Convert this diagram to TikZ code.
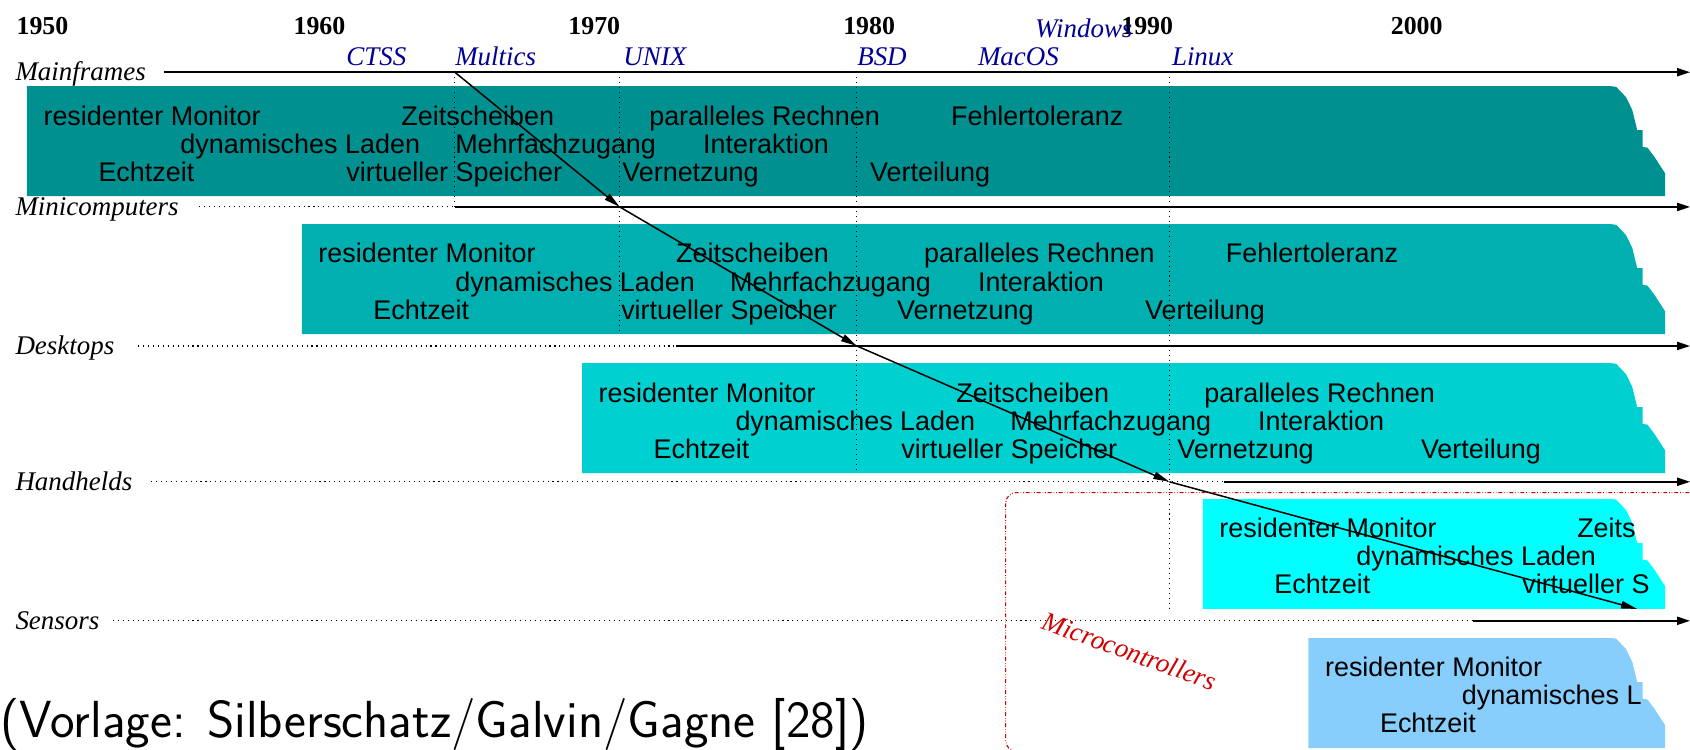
\documentclass[tikz,border=0pt]{standalone}
\usepackage{fontspec}
\newfontfamily\helv{Liberation Sans}
\newfontfamily\tms{Liberation Serif}
\usetikzlibrary{arrows.meta}
\definecolor{cyanfour}{RGB}{0,144,144}
\definecolor{cyanthree}{RGB}{0,176,176}
\definecolor{cyantwo}{RGB}{0,208,208}
\definecolor{cyanone}{RGB}{0,255,255}
\definecolor{ltblue}{RGB}{135,206,252}
\definecolor{osblue}{RGB}{0,0,150}
\definecolor{mcred}{RGB}{210,0,0}
\newcommand\osband[3]{%
  \begin{scope}[shift={(0,#2)}]
    \fill[#3] (#1,0) -- (1495,0) -- (1499.5,0.6) -- (1508.5,10) -- (1511.5,16)
      -- (1514.5,22.3) -- (1517.5,34.6) -- (1519,40.8) -- (1524,40.8) -- (1524,56.3)
      -- (1528.5,57) -- (1535,65.6) -- (1545,81) -- (1545,102) -- (#1,102) -- cycle;
  \end{scope}}
\begin{document}
\begin{tikzpicture}[x=0.5pt,y=-0.5pt,
  feat/.style={font=\helv\fontsize{12.5pt}{14pt}\selectfont, anchor=base west, inner sep=0pt},
  year/.style={font=\tms\bfseries\fontsize{12pt}{14pt}\selectfont, anchor=base west, inner sep=0pt},
  os/.style={font=\tms\itshape\fontsize{12.5pt}{14pt}\selectfont, text=osblue, anchor=base west, inner sep=0pt},
  cls/.style={font=\tms\itshape\fontsize{12.5pt}{14pt}\selectfont, anchor=base west, inner sep=0pt},
  tl/.style={line width=0.7pt, -{Triangle[length=6pt,width=3.8pt]}},
  dotl/.style={line width=0.5pt, dash pattern=on 0.5pt off 1.8pt},
  conn/.style={line width=0.7pt, -{Triangle[length=7.5pt,width=3.4pt]}},
]
\useasboundingbox (0,0) rectangle (1568,695);
\clip (0,0) rectangle (1568,695);

% bands
\osband{25}{80}{cyanfour}
\osband{280}{208}{cyanthree}
\osband{540}{337}{cyantwo}
\osband{1116}{463}{cyanone}
\osband{1214}{592}{ltblue}

% years
\node[year] (y50) at (15,32) {1950};
\node[year] (y60) at (272,32) {1960};
\node[year] (y70) at (527,32) {1970};
\node[year] (y80) at (782,32) {1980};
\node[year] (y90) at (1040,32) {1990};
\node[year] (y00) at (1290,32) {2000};

% OS labels
\node[os] (ctss) at (321,61) {CTSS};
\node[os] (multics) at (422,61) {Multics};
\node[os] (unix) at (578,61) {UNIX};
\node[os] (bsd) at (795,61) {BSD};
\node[os] (macos) at (907,61) {MacOS};
\node[os] (windows) at (960,35) {Windows};
\node[os] (linux) at (1087,61) {Linux};

% class labels
\node[cls] (lmf) at (14,75) {Mainframes};
\node[cls] (lmc) at (14,200) {Minicomputers};
\node[cls] (ldt) at (14,329) {Desktops};
\node[cls] (lhh) at (14,455) {Handhelds};
\node[cls] (lsn) at (14,584) {Sensors};

% timeline coordinates
\coordinate (mfA) at (152,67);   \coordinate (mfE) at (1568,67);
\coordinate (mcA) at (185,192);  \coordinate (mcB) at (422,192);  \coordinate (mcE) at (1568,192);
\coordinate (dtA) at (128,321);  \coordinate (dtB) at (627,321);  \coordinate (dtE) at (1568,321);
\coordinate (hhA) at (140,447);  \coordinate (hhB) at (1136,447); \coordinate (hhE) at (1568,447);
\coordinate (snA) at (105,576);  \coordinate (snB) at (1367,576); \coordinate (snE) at (1568,576);

\draw[tl] (mfA) -- (mfE);
\draw[dotl] (mcA) -- (mcB); \draw[tl] (mcB) -- (mcE);
\draw[dotl] (dtA) -- (dtB); \draw[tl] (dtB) -- (dtE);
\draw[dotl] (hhA) -- (hhB); \draw[tl] (hhB) -- (hhE);
\draw[dotl] (snA) -- (snB); \draw[tl] (snB) -- (snE);

% vertical dotted markers
\coordinate (vM0) at (422,67);  \coordinate (vM1) at (422,192);
\coordinate (vU0) at (575,67);  \coordinate (vU1) at (575,310);
\coordinate (vB0) at (795,67);  \coordinate (vB1) at (795,438);
\coordinate (vL0) at (1085,67); \coordinate (vL1) at (1085,565);
\draw[dotl] (vM0) -- (vM1);
\draw[dotl] (vU0) -- (vU1);
\draw[dotl] (vB0) -- (vB1);
\draw[dotl] (vL0) -- (vL1);

% Mainframes features
\node[feat] (mf1) at (40,116) {residenter Monitor};
\node[feat] (mf2) at (372,116) {Zeitscheiben};
\node[feat] (mf3) at (602,116) {paralleles Rechnen};
\node[feat] (mf4) at (882,116) {Fehlertoleranz};
\node[feat] (mf5) at (167,142) {dynamisches Laden};
\node[feat] (mf6) at (422,142) {Mehrfachzugang};
\node[feat] (mf7) at (652,142) {Interaktion};
\node[feat] (mf8) at (91,168) {Echtzeit};
\node[feat] (mf9) at (321,168) {virtueller Speicher};
\node[feat] (mf10) at (577,168) {Vernetzung};
\node[feat] (mf11) at (807,168) {Verteilung};

% Minicomputers features
\node[feat] (mc1) at (295,244) {residenter Monitor};
\node[feat] (mc2) at (627,244) {Zeitscheiben};
\node[feat] (mc3) at (857,244) {paralleles Rechnen};
\node[feat] (mc4) at (1137,244) {Fehlertoleranz};
\node[feat] (mc5) at (422,270) {dynamisches Laden};
\node[feat] (mc6) at (677,270) {Mehrfachzugang};
\node[feat] (mc7) at (907,270) {Interaktion};
\node[feat] (mc8) at (346,296) {Echtzeit};
\node[feat] (mc9) at (576,296) {virtueller Speicher};
\node[feat] (mc10) at (832,296) {Vernetzung};
\node[feat] (mc11) at (1062,296) {Verteilung};

% Desktops features
\node[feat] (dt1) at (555,373) {residenter Monitor};
\node[feat] (dt2) at (887,373) {Zeitscheiben};
\node[feat] (dt3) at (1117,373) {paralleles Rechnen};
\node[feat] (dt5) at (682,399) {dynamisches Laden};
\node[feat] (dt6) at (937,399) {Mehrfachzugang};
\node[feat] (dt7) at (1167,399) {Interaktion};
\node[feat] (dt8) at (606,425) {Echtzeit};
\node[feat] (dt9) at (836,425) {virtueller Speicher};
\node[feat] (dt10) at (1092,425) {Vernetzung};
\node[feat] (dt11) at (1318,425) {Verteilung};

% Handhelds features
\node[feat] (hh1) at (1131,499) {residenter Monitor};
\node[feat] (hh2) at (1463,499) {Zeits};
\node[feat] (hh5) at (1258,525) {dynamisches Laden};
\node[feat] (hh8) at (1182,551) {Echtzeit};
\node[feat] (hh9) at (1412,551) {virtueller S};

% Sensors features
\node[feat] (sn1) at (1229,628) {residenter Monitor};
\node[feat] (sn5) at (1356,654) {dynamisches L};
\node[feat] (sn8) at (1280,680) {Echtzeit};

% microcontrollers region
\draw[mcred, line width=0.5pt, rounded corners=5pt,
      dash pattern=on 1.8pt off 0.9pt on 0.3pt off 0.9pt on 0.3pt off 0.9pt]
  (933,457) rectangle (1700,697);
\node[cls, text=mcred, rotate=-20, anchor=center] (mc) at (1048,604) {Microcontrollers};

% migration arrows
\coordinate (pMultics) at (422,67);
\coordinate (pUnix) at (575,192);
\coordinate (pBsd) at (795,321);
\coordinate (pLinux) at (1085,447);
\coordinate (pEnd) at (1519,565);
\draw[conn] (pMultics) -- (pUnix);
\draw[conn] (pUnix) -- (pBsd);
\draw[conn] (pBsd) -- (pLinux);
\draw[conn] (pLinux) -- (pEnd);

% source
\node[anchor=base west, inner sep=0pt, font=\sffamily\fontsize{24.2pt}{29pt}\selectfont] (src) at (0,684) {(Vorlage: Silberschatz/Galvin/Gagne [28])};
\end{tikzpicture}
\end{document}
